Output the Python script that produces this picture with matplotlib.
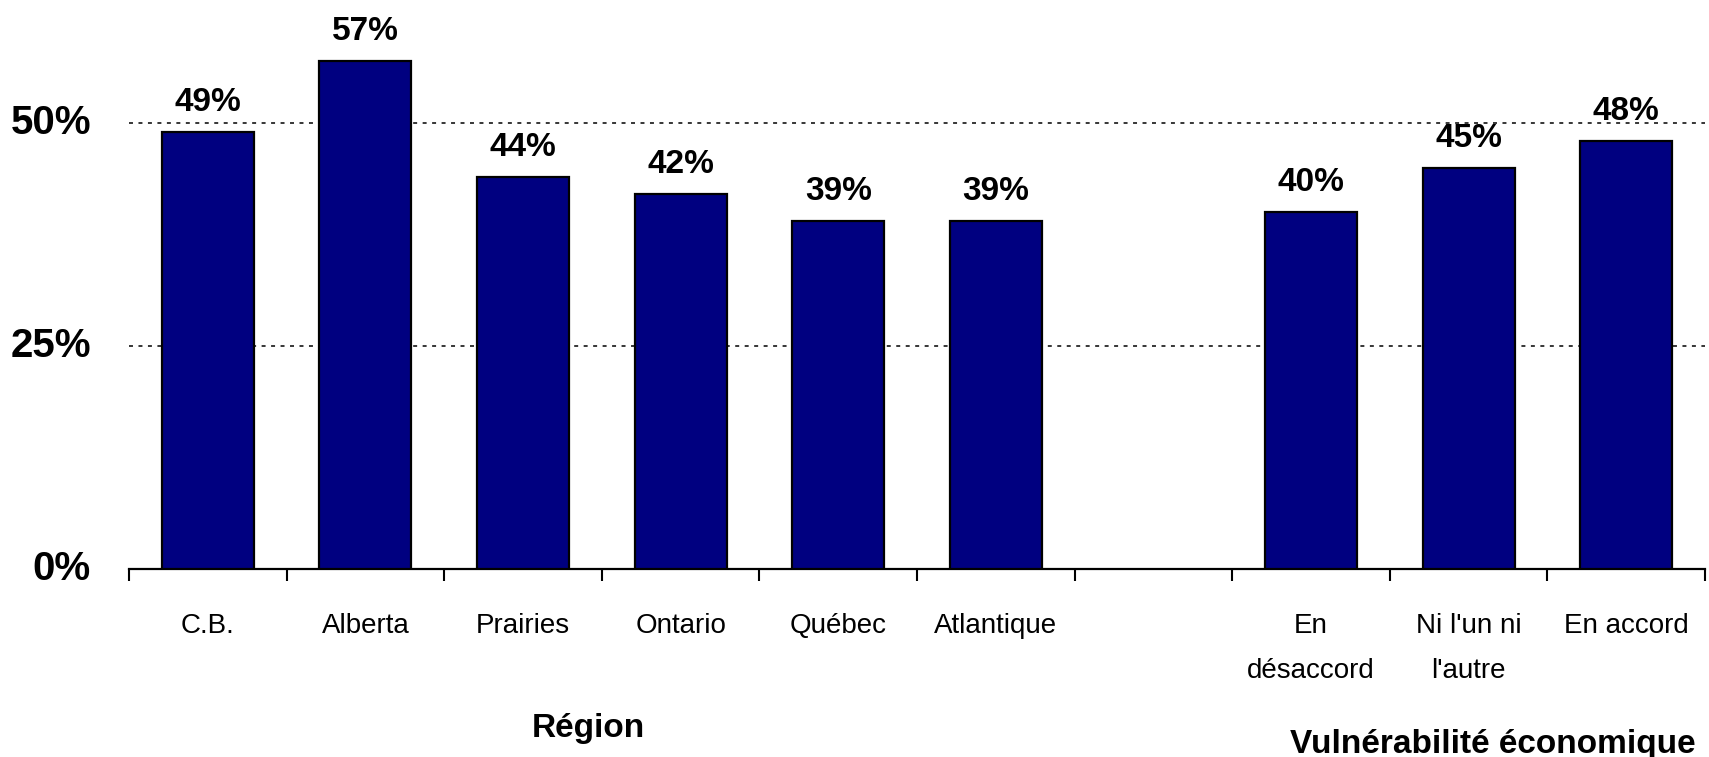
import matplotlib
matplotlib.use("Agg")
import matplotlib.pyplot as plt
import numpy as np

categories = ["C.B.", "Alberta", "Prairies", "Ontario", "Québec", "Atlantique", "",
              "En\ndésaccord", "Ni l'un ni\nl'autre", "En accord"]
values = [49, 57, 44, 42, 39, 39, None, 40, 45, 48]
yticks = [0, 25, 50]
ytick_labels = ["0%", "25%", "50%"]
group_titles = ["Région", "Vulnérabilité économique"]

font = "Liberation Sans"
plt.rcParams["font.family"] = [font, "DejaVu Sans"]

W, H = 1709, 757
fig = plt.figure(figsize=(W / 100, H / 100), dpi=100)
x0, x1 = 129, 1705
y0 = 569
ymax = 60
ppu = 446 / 50.0
ytop = y0 - ymax * ppu
ax = fig.add_axes([x0 / W, 1 - y0 / H, (x1 - x0) / W, (y0 - ytop) / H])

n = len(categories)
xs = np.arange(n) + 0.5
for xi, v in zip(xs, values):
    if v is None:
        continue
    ax.bar(xi, v, width=0.585, color="#000080", edgecolor="black", linewidth=1.6, zorder=3)
    ax.text(xi, v + 21 / ppu, f"{v}%", ha="center", va="baseline", fontsize=24,
            fontweight="bold", zorder=4)

for yv in [25, 50]:
    ax.axhline(yv, color="black", linestyle=(0, (2.6, 3.6)), linewidth=1.1, zorder=1)

ax.set_xlim(0, n)
ax.set_ylim(0, ymax)
ax.set_xticks(np.arange(n + 1))
ax.set_xticklabels([])
ax.set_xticks(xs, minor=True)
ax.set_xticklabels(categories, minor=True, fontsize=20, linespacing=1.95, va="top")
ax.tick_params(axis="x", which="minor", length=0, pad=44 * 0.72)
ax.tick_params(axis="x", which="major", length=8.5, width=1.5, direction="out")
ax.set_yticks(yticks)
ax.set_yticklabels(ytick_labels, fontsize=29, fontweight="bold", va="center")
ax.tick_params(axis="y", length=0, pad=38 * 0.72)
for s in ["top", "right", "left"]:
    ax.spines[s].set_visible(False)
ax.spines["bottom"].set_linewidth(1.6)

fig.text(588 / W, 1 - 737 / H, group_titles[0], ha="center", va="baseline",
         fontsize=24, fontweight="bold")
fig.text(1493 / W, 1 - 753 / H, group_titles[1], ha="center", va="baseline",
         fontsize=24, fontweight="bold")

fig.savefig("out.png", dpi=100)
